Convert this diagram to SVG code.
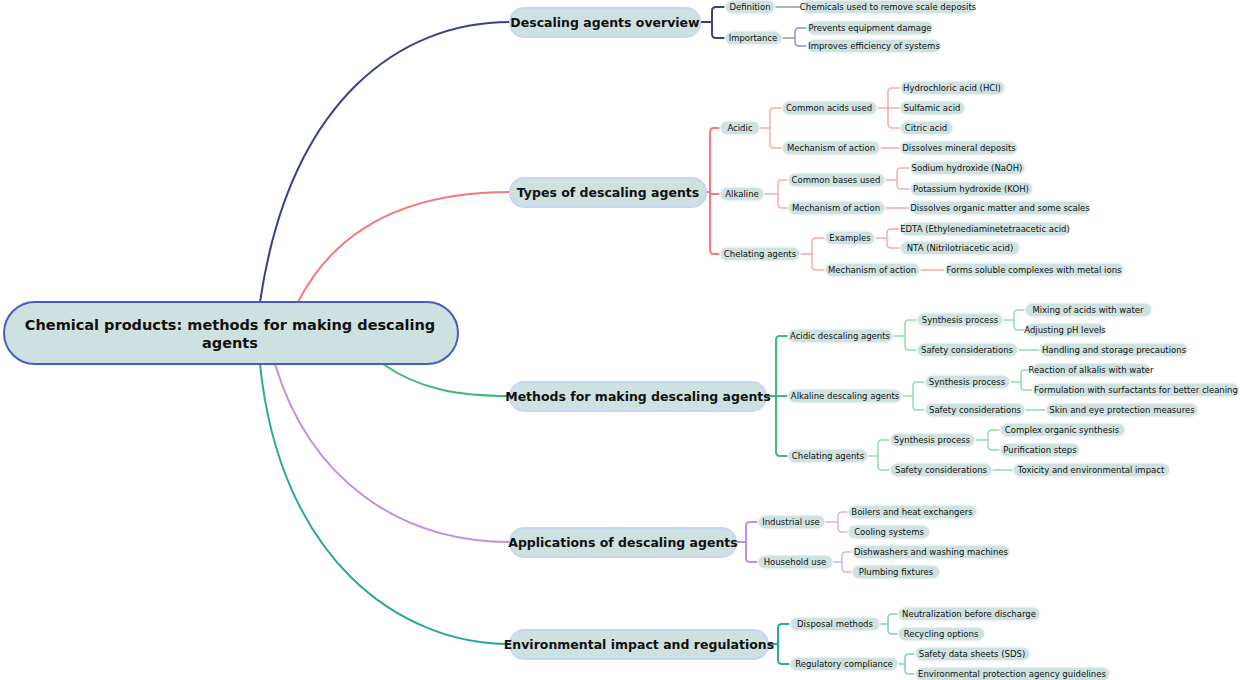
<svg xmlns="http://www.w3.org/2000/svg" width="1240" height="680" viewBox="0 0 1240 680">
<style>
text{font-family:"DejaVu Sans",Verdana,sans-serif;fill:#111;text-anchor:middle}
.l rect{fill:#d0e2e0;stroke:#f4f8f8;stroke-width:1.5}
.l text{font-size:8.5px}
.m rect{fill:#cde2e0;stroke:#c9d6f2;stroke-width:2}
.m text{font-size:12.5px;font-weight:bold}
path{fill:none}
.c1{stroke:#3c3f8f;stroke-width:2}.s1{stroke:#9192c6;stroke-width:1.5}
.c2{stroke:#f47b7b;stroke-width:2}.s2{stroke:#f9aaaa;stroke-width:1.5}
.c3{stroke:#3dba78;stroke-width:2}.s3{stroke:#92dbb3;stroke-width:1.5}
.c4{stroke:#c08fe6;stroke-width:2}.s4{stroke:#d6b1f0;stroke-width:1.5}
.c5{stroke:#2aa89a;stroke-width:2}.s5{stroke:#7fcdc3;stroke-width:1.5}
</style>
<rect width="1240" height="680" fill="#fff"/>
<g id="connectors">
<path class="c1" d="M260,302 C290,100 400,22 510,22"/>
<path class="c2" d="M298,302 C340,220 420,192 510,192"/>
<path class="c3" d="M383,364 C420,390 460,396 510,396"/>
<path class="c4" d="M275,364 C310,480 400,542 510,542"/>
<path class="c5" d="M260,364 C280,560 400,644 510,644"/>
<path class="c1" d="M700,22 H712 V11 Q712,7 716,7 H725 M700,22 H712 V34 Q712,38 716,38 H725"/>
<path class="s1" d="M775,7 H802 M782,38 H795 V32 Q795,28 799,28 H807 M782,38 H795 V42 Q795,46 799,46 H807"/>
<path class="c2" d="M706,192 H710 V132 Q710,128 714,128 H720 M706,192 H710 V194 H720 M706,192 H710 V250 Q710,254 714,254 H720"/>
<path class="s2" d="M760,128 H770 V112 Q770,108 774,108 H782 M760,128 H770 V144 Q770,148 774,148 H782
M877,108 H888 V92 Q888,88 892,88 H900 M877,108 H900 M877,108 H888 V124 Q888,128 892,128 H900 M880,148 H900
M764,194 H778 V184 Q778,180 782,180 H788 M764,194 H778 V204 Q778,208 782,208 H788
M885,180 H897 V172 Q897,168 901,168 H910 M885,180 H897 V185 Q897,189 901,189 H910 M885,208 H910
M800,254 H812 V242 Q812,238 816,238 H825 M800,254 H812 V266 Q812,270 816,270 H825
M875,238 H887 V233 Q887,229 891,229 H900 M875,238 H887 V244 Q887,248 891,248 H900 M920,270 H945"/>
<path class="c3" d="M766,396 H776 V340 Q776,336 780,336 H788 M766,396 H788 M766,396 H776 V452 Q776,456 780,456 H788"/>
<path class="s3" d="M893,336 H905 V324 Q905,320 909,320 H917 M893,336 H905 V346 Q905,350 909,350 H917
M1003,320 H1014 V314 Q1014,310 1018,310 H1025 M1003,320 H1014 V326 Q1014,330 1018,330 H1025 M1018,350 H1040
M902,396 H913 V386 Q913,382 917,382 H925 M902,396 H913 V406 Q913,410 917,410 H925
M1010,382 H1021 V374 Q1021,370 1025,370 H1033 M1010,382 H1021 V386 Q1021,390 1025,390 H1033 M1025,410 H1046
M868,456 H878 V444 Q878,440 882,440 H890 M868,456 H878 V466 Q878,470 882,470 H890
M975,440 H988 V434 Q988,430 992,430 H1000 M975,440 H988 V446 Q988,450 992,450 H1000 M992,470 H1013"/>
<path class="c4" d="M736,542 H746 V526 Q746,522 750,522 H758 M736,542 H746 V558 Q746,562 750,562 H758"/>
<path class="s4" d="M825,522 H838 V516 Q838,512 842,512 H848 M825,522 H838 V528 Q838,532 842,532 H848
M833,562 H842 V556 Q842,552 846,552 H852 M833,562 H842 V568 Q842,572 846,572 H852"/>
<path class="c5" d="M768,644 H778 V628 Q778,624 782,624 H790 M768,644 H778 V660 Q778,664 782,664 H790"/>
<path class="s5" d="M880,624 H888 V618 Q888,614 892,614 H898 M880,624 H888 V630 Q888,634 892,634 H898
M898,664 H905 V658 Q905,654 909,654 H915 M898,664 H905 V670 Q905,674 909,674 H915"/>
</g>
<g id="root"><rect x="4" y="302" width="454" height="62" rx="31" fill="#cde2e0" stroke="#4a5bbf" stroke-width="2"/><text x="230" y="330" style="font-size:14.5px;font-weight:bold">Chemical products: methods for making descaling</text><text x="230" y="348" style="font-size:14.5px;font-weight:bold">agents</text></g>
<g id="n1" class="m"><rect x="510" y="8" width="190" height="29" rx="14"/><text x="605" y="27">Descaling agents overview</text></g>
<g id="n2" class="m"><rect x="510" y="178" width="196" height="29" rx="14"/><text x="608" y="197">Types of descaling agents</text></g>
<g id="n3" class="m"><rect x="510" y="382" width="256" height="29" rx="14"/><text x="638" y="401">Methods for making descaling agents</text></g>
<g id="n4" class="m"><rect x="510" y="528" width="226" height="29" rx="14"/><text x="623" y="547">Applications of descaling agents</text></g>
<g id="n5" class="m"><rect x="510" y="630" width="258" height="29" rx="14"/><text x="639" y="649">Environmental impact and regulations</text></g>
<g class="l">
<g id="a1"><rect x="725" y="0" width="50" height="14" rx="7"/><text x="750" y="10">Definition</text></g>
<g id="a2"><rect x="802" y="0" width="173" height="14" rx="7"/><text x="888" y="10">Chemicals used to remove scale deposits</text></g>
<g id="a3"><rect x="725" y="31" width="57" height="14" rx="7"/><text x="753" y="41">Importance</text></g>
<g id="a4"><rect x="807" y="21" width="126" height="14" rx="7"/><text x="870" y="31">Prevents equipment damage</text></g>
<g id="a5"><rect x="807" y="39" width="134" height="14" rx="7"/><text x="874" y="49">Improves efficiency of systems</text></g>
<g id="b1"><rect x="720" y="121" width="40" height="14" rx="7"/><text x="740" y="131">Acidic</text></g>
<g id="b2"><rect x="782" y="101" width="95" height="14" rx="7"/><text x="829" y="111">Common acids used</text></g>
<g id="b3"><rect x="900" y="81" width="105" height="14" rx="7"/><text x="952" y="91">Hydrochloric acid (HCl)</text></g>
<g id="b4"><rect x="900" y="101" width="65" height="14" rx="7"/><text x="932" y="111">Sulfamic acid</text></g>
<g id="b5"><rect x="900" y="121" width="53" height="14" rx="7"/><text x="926" y="131">Citric acid</text></g>
<g id="b6"><rect x="782" y="141" width="98" height="14" rx="7"/><text x="831" y="151">Mechanism of action</text></g>
<g id="b7"><rect x="900" y="141" width="118" height="14" rx="7"/><text x="959" y="151">Dissolves mineral deposits</text></g>
<g id="b8"><rect x="720" y="187" width="44" height="14" rx="7"/><text x="742" y="197">Alkaline</text></g>
<g id="b9"><rect x="788" y="173" width="97" height="14" rx="7"/><text x="836" y="183">Common bases used</text></g>
<g id="b10"><rect x="910" y="161" width="115" height="14" rx="7"/><text x="967" y="171">Sodium hydroxide (NaOH)</text></g>
<g id="b11"><rect x="910" y="182" width="123" height="14" rx="7"/><text x="971" y="192">Potassium hydroxide (KOH)</text></g>
<g id="b12"><rect x="788" y="201" width="97" height="14" rx="7"/><text x="836" y="211">Mechanism of action</text></g>
<g id="b13"><rect x="910" y="201" width="180" height="14" rx="7"/><text x="1000" y="211">Dissolves organic matter and some scales</text></g>
<g id="b14"><rect x="720" y="247" width="80" height="14" rx="7"/><text x="760" y="257">Chelating agents</text></g>
<g id="b15"><rect x="825" y="231" width="50" height="14" rx="7"/><text x="850" y="241">Examples</text></g>
<g id="b16"><rect x="900" y="222" width="170" height="14" rx="7"/><text x="985" y="232">EDTA (Ethylenediaminetetraacetic acid)</text></g>
<g id="b17"><rect x="900" y="241" width="120" height="14" rx="7"/><text x="960" y="251">NTA (Nitrilotriacetic acid)</text></g>
<g id="b18"><rect x="825" y="263" width="95" height="14" rx="7"/><text x="872" y="273">Mechanism of action</text></g>
<g id="b19"><rect x="945" y="263" width="179" height="14" rx="7"/><text x="1034" y="273">Forms soluble complexes with metal ions</text></g>
<g id="c1"><rect x="788" y="329" width="105" height="14" rx="7"/><text x="840" y="339">Acidic descaling agents</text></g>
<g id="c2"><rect x="917" y="313" width="86" height="14" rx="7"/><text x="960" y="323">Synthesis process</text></g>
<g id="c3"><rect x="1025" y="303" width="127" height="14" rx="7"/><text x="1088" y="313">Mixing of acids with water</text></g>
<g id="c4"><rect x="1025" y="323" width="80" height="14" rx="7"/><text x="1065" y="333">Adjusting pH levels</text></g>
<g id="c5"><rect x="917" y="343" width="101" height="14" rx="7"/><text x="967" y="353">Safety considerations</text></g>
<g id="c6"><rect x="1040" y="343" width="148" height="14" rx="7"/><text x="1114" y="353">Handling and storage precautions</text></g>
<g id="c7"><rect x="788" y="389" width="114" height="14" rx="7"/><text x="845" y="399">Alkaline descaling agents</text></g>
<g id="c8"><rect x="925" y="375" width="85" height="14" rx="7"/><text x="967" y="385">Synthesis process</text></g>
<g id="c9"><rect x="1033" y="363" width="117" height="14" rx="7"/><text x="1091" y="373">Reaction of alkalis with water</text></g>
<g id="c10"><rect x="1033" y="383" width="206" height="14" rx="7"/><text x="1136" y="393">Formulation with surfactants for better cleaning</text></g>
<g id="c11"><rect x="925" y="403" width="100" height="14" rx="7"/><text x="975" y="413">Safety considerations</text></g>
<g id="c12"><rect x="1046" y="403" width="152" height="14" rx="7"/><text x="1122" y="413">Skin and eye protection measures</text></g>
<g id="c13"><rect x="788" y="449" width="80" height="14" rx="7"/><text x="828" y="459">Chelating agents</text></g>
<g id="c14"><rect x="890" y="433" width="85" height="14" rx="7"/><text x="932" y="443">Synthesis process</text></g>
<g id="c15"><rect x="1000" y="423" width="125" height="14" rx="7"/><text x="1062" y="433">Complex organic synthesis</text></g>
<g id="c16"><rect x="1000" y="443" width="80" height="14" rx="7"/><text x="1040" y="453">Purification steps</text></g>
<g id="c17"><rect x="890" y="463" width="102" height="14" rx="7"/><text x="941" y="473">Safety considerations</text></g>
<g id="c18"><rect x="1013" y="463" width="157" height="14" rx="7"/><text x="1091" y="473">Toxicity and environmental impact</text></g>
<g id="d1"><rect x="758" y="515" width="67" height="14" rx="7"/><text x="791" y="525">Industrial use</text></g>
<g id="d2"><rect x="848" y="505" width="129" height="14" rx="7"/><text x="912" y="515">Boilers and heat exchangers</text></g>
<g id="d3"><rect x="848" y="525" width="82" height="14" rx="7"/><text x="889" y="535">Cooling systems</text></g>
<g id="d4"><rect x="758" y="555" width="75" height="14" rx="7"/><text x="795" y="565">Household use</text></g>
<g id="d5"><rect x="852" y="545" width="158" height="14" rx="7"/><text x="931" y="555">Dishwashers and washing machines</text></g>
<g id="d6"><rect x="852" y="565" width="88" height="14" rx="7"/><text x="896" y="575">Plumbing fixtures</text></g>
<g id="e1"><rect x="790" y="617" width="90" height="14" rx="7"/><text x="835" y="627">Disposal methods</text></g>
<g id="e2"><rect x="898" y="607" width="142" height="14" rx="7"/><text x="969" y="617">Neutralization before discharge</text></g>
<g id="e3"><rect x="898" y="627" width="87" height="14" rx="7"/><text x="941" y="637">Recycling options</text></g>
<g id="e4"><rect x="790" y="657" width="108" height="14" rx="7"/><text x="844" y="667">Regulatory compliance</text></g>
<g id="e5"><rect x="915" y="647" width="115" height="14" rx="7"/><text x="972" y="657">Safety data sheets (SDS)</text></g>
<g id="e6"><rect x="915" y="667" width="195" height="14" rx="7"/><text x="1012" y="677">Environmental protection agency guidelines</text></g>
</g>
</svg>
